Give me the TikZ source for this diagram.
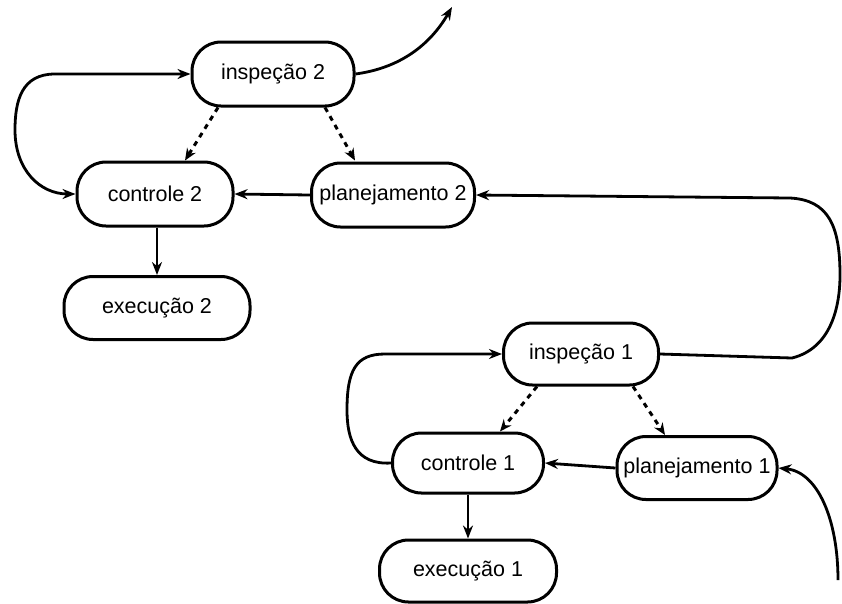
\documentclass[tikz,border=0pt]{standalone}
\usepackage{fontspec}
\setmainfont{Liberation Sans}
\usetikzlibrary{arrows.meta}
\begin{document}
\begin{tikzpicture}[x=1pt,y=-1pt,
  box/.style={draw,line width=3pt,rounded corners=29pt,minimum height=64pt,inner sep=0pt,
    font=\fontsize{21.5}{25}\selectfont},
  conn/.style={line width=2.8pt,-{Stealth[length=13pt,width=10pt]}},
  dotconn/.style={line width=3pt,dash pattern=on 5pt off 5pt,-{Stealth[length=12pt,width=10pt]}}]
\useasboundingbox (0,0) rectangle (842,603);
% nodes
\node[box,minimum width=162pt] (i2) at (273,74) {inspeção 2};
\node[box,minimum width=156pt] (c2) at (155,194) {controle 2};
\node[box,minimum width=163pt] (p2) at (393,195) {planejamento 2};
\node[box,minimum width=186pt,minimum height=63pt] (e2) at (157,308) {execução 2};
\node[box,minimum width=155pt,minimum height=62pt] (i1) at (581,354) {inspeção 1};
\node[box,minimum width=151pt,minimum height=60pt] (c1) at (468,463) {controle 1};
\node[box,minimum width=160pt,minimum height=63pt] (p1) at (697,468) {planejamento 1};
\node[box,minimum width=177pt,minimum height=62pt] (e1) at (468,571) {execução 1};
\coordinate (out2) at (452,7);
\coordinate (in1) at (838,580);
% connectors level 2
\draw[conn] (i2.east) .. controls (400,68) and (430,45) .. (out2);
\draw[line width=2.8pt,{Stealth[length=13pt,width=10pt]}-{Stealth[length=13pt,width=10pt]}]
  (i2.west) -- (55,74) .. controls (22,74) and (15,100) .. (15,130)
  .. controls (15,170) and (40,194) .. (c2.west);
\draw[dotconn] (i2.south -| 218,0) -- (c2.north -| 185,0);
\draw[dotconn] (i2.south -| 325,0) -- (c2.north -| 355,0);
\draw[conn] (p2.west) -- (c2.east);
\draw[conn] (c2.south -| e2.north) -- (e2.north);
% connectors level 1
\draw[conn] (i1.east) -- (792,358) .. controls (832,348) and (840,305) .. (840,275)
  .. controls (840,225) and (828,200) .. (790,198) -- (p2.east);
\draw[conn] (c1.west) .. controls (356,465) and (347,440) .. (347,410)
  .. controls (347,370) and (356,354) .. (385,354) -- (i1.west);
\draw[dotconn] (i1.south -| 537,0) -- (c1.north -| 500,0);
\draw[dotconn] (i1.south -| 633,0) -- (p1.north -| 665,0);
\draw[conn] (p1.west) -- (c1.east);
\draw[conn] (c1.south) -- (e1.north);
\draw[conn] (in1) .. controls (838,520) and (818,472) .. (p1.east);
\end{tikzpicture}
\end{document}
